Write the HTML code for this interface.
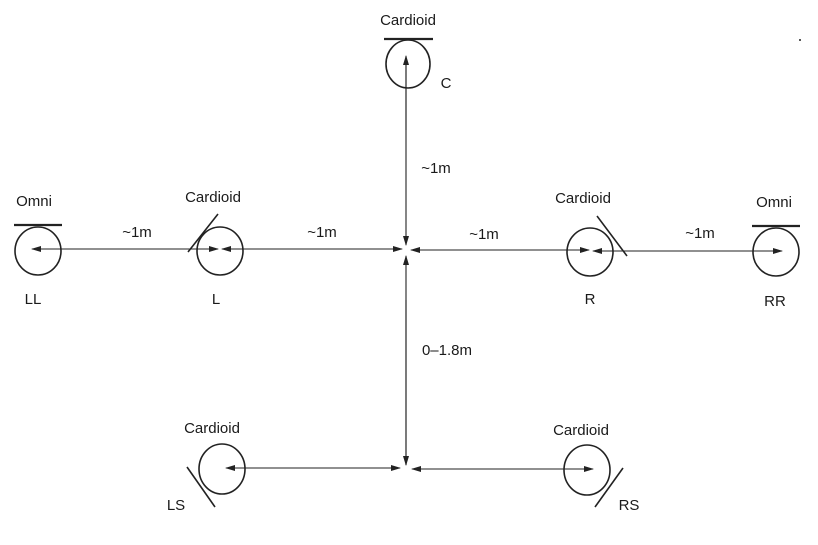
<!DOCTYPE html>
<html><head><meta charset="utf-8"><style>
html,body{margin:0;padding:0;background:#fff;}
svg{display:block;}
text{font-family:"Liberation Sans",sans-serif;font-size:15px;fill:#1a1a1a;}
</style></head><body>
<svg width="818" height="545" viewBox="0 0 818 545" xmlns="http://www.w3.org/2000/svg">
<defs>
<marker id="a" markerWidth="10" markerHeight="6" refX="9" refY="3" orient="auto" markerUnits="userSpaceOnUse">
<path d="M0,0 L10,3 L0,6 Z" fill="#222"/></marker>
</defs>
<g stroke="#222" fill="none" stroke-width="1.6">
<ellipse cx="408" cy="64" rx="22" ry="24"/>
<ellipse cx="38" cy="251" rx="23" ry="24"/>
<ellipse cx="220" cy="251" rx="23" ry="24"/>
<ellipse cx="590" cy="252" rx="23" ry="24"/>
<ellipse cx="776" cy="252" rx="23" ry="24"/>
<ellipse cx="222" cy="469" rx="23" ry="25"/>
<ellipse cx="587" cy="470" rx="23" ry="25"/>
<line x1="384" y1="39" x2="433" y2="39" stroke-width="2.2"/>
<line x1="14" y1="225" x2="62" y2="225" stroke-width="2.2"/>
<line x1="752" y1="226" x2="800" y2="226" stroke-width="2.2"/>
<line x1="188" y1="252" x2="218" y2="214"/>
<line x1="597" y1="216" x2="627" y2="256"/>
<line x1="187" y1="467" x2="215" y2="507"/>
<line x1="595" y1="507" x2="623" y2="468"/>
</g>
<g stroke="#222" stroke-width="1.1" fill="none">
<line x1="406" y1="130" x2="406" y2="56" marker-end="url(#a)"/>
<line x1="406" y1="60" x2="406" y2="245" marker-end="url(#a)"/>
<line x1="406" y1="465" x2="406" y2="256" marker-end="url(#a)"/>
<line x1="406" y1="300" x2="406" y2="465" marker-end="url(#a)"/>
<line x1="200" y1="249" x2="32" y2="249" marker-end="url(#a)"/>
<line x1="190" y1="249" x2="218" y2="249" marker-end="url(#a)"/>
<line x1="300" y1="249" x2="222" y2="249" marker-end="url(#a)"/>
<line x1="230" y1="249" x2="402" y2="249" marker-end="url(#a)"/>
<line x1="500" y1="250" x2="411" y2="250" marker-end="url(#a)"/>
<line x1="420" y1="250" x2="589" y2="250" marker-end="url(#a)"/>
<line x1="700" y1="251" x2="593" y2="251" marker-end="url(#a)"/>
<line x1="600" y1="251" x2="782" y2="251" marker-end="url(#a)"/>
<line x1="300" y1="468" x2="226" y2="468" marker-end="url(#a)"/>
<line x1="300" y1="468" x2="400" y2="468" marker-end="url(#a)"/>
<line x1="500" y1="469" x2="412" y2="469" marker-end="url(#a)"/>
<line x1="500" y1="469" x2="593" y2="469" marker-end="url(#a)"/>
</g>
<circle cx="800" cy="40" r="1" fill="#222"/>
<g text-anchor="middle">
<text x="408" y="25">Cardioid</text>
<text x="446" y="88">C</text>
<text x="436" y="173">~1m</text>
<text x="34" y="206">Omni</text>
<text x="213" y="202">Cardioid</text>
<text x="583" y="203">Cardioid</text>
<text x="774" y="207">Omni</text>
<text x="137" y="237">~1m</text>
<text x="322" y="237">~1m</text>
<text x="484" y="239">~1m</text>
<text x="700" y="238">~1m</text>
<text x="33" y="304">LL</text>
<text x="216" y="304">L</text>
<text x="590" y="304">R</text>
<text x="775" y="306">RR</text>
<text x="447" y="355">0–1.8m</text>
<text x="212" y="433">Cardioid</text>
<text x="581" y="435">Cardioid</text>
<text x="176" y="510">LS</text>
<text x="629" y="510">RS</text>
</g>
</svg>
</body></html>
